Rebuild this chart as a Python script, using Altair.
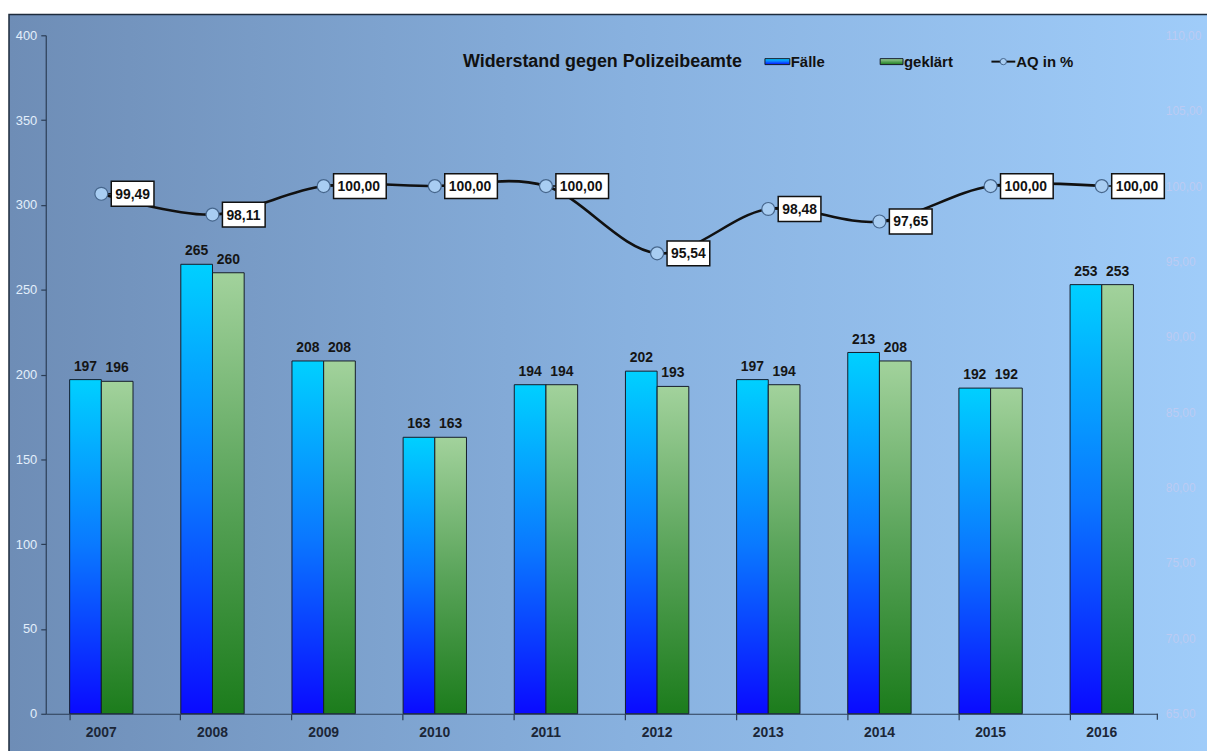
import altair as alt
import pandas as pd

# ---------------- data ----------------
years = ["2007", "2008", "2009", "2010", "2011", "2012", "2013", "2014", "2015", "2016"]
faelle = [197, 265, 208, 163, 194, 202, 197, 213, 192, 253]
geklaert = [196, 260, 208, 163, 194, 193, 194, 208, 192, 253]
aq = [99.49, 98.11, 100.00, 100.00, 100.00, 95.54, 98.48, 97.65, 100.00, 100.00]
series_names = ["Fälle", "geklärt"]
left_ticks = [0, 50, 100, 150, 200, 250, 300, 350, 400]
right_ticks = [65, 70, 75, 80, 85, 90, 95, 100, 105, 110]
title_text = "Widerstand gegen Polizeibeamte"
legend_labels = ["Fälle", "geklärt", "AQ in %"]

# ---------------- tables ----------------
rows = []
for y, f, g in zip(years, faelle, geklaert):
    rows.append({"year": y, "series": series_names[0], "value": f})
    rows.append({"year": y, "series": series_names[1], "value": g})
df_bars = pd.DataFrame(rows)

labs = [f"{v:.2f}".replace(".", ",") for v in aq]
df_line = pd.DataFrame({"year": years, "aq": aq, "lab": labs, "n": [str(len(s)) for s in labs]})
one = pd.DataFrame({"a": [0]})

W, H = 1119, 683
BOLD = "Liberation Sans"
REG = "Liberation Sans"

# ---------------- encodings ----------------
X = alt.X(
    "year:N", sort=years,
    scale=alt.Scale(domain=years, paddingInner=0.43, paddingOuter=0.215),
    axis=alt.Axis(title=None, labelFont=BOLD, labelFontWeight="bold", labelFontSize=14,
                  labelColor="#1b2637", labelPadding=6, domainColor="#2b3d55", domainWidth=1.2,
                  tickColor="#2b3d55", tickSize=6, tickWidth=1.2, bandPosition=0, labelAngle=0,
                  grid=False, zindex=1),
)
XO = alt.XOffset("series:N", scale=alt.Scale(domain=series_names, paddingInner=0, paddingOuter=0))
YL = alt.Y(
    "value:Q",
    scale=alt.Scale(domain=[0, 400], nice=False, zero=True),
    axis=alt.Axis(title=None, values=left_ticks, labelFont=REG, labelFontSize=13,
                  labelColor="#e2eefb", labelPadding=4, domainColor="#2b3d55", domainWidth=1.2,
                  tickColor="#2b3d55", tickSize=5, tickWidth=1.2, grid=False, zindex=1),
)
YR = alt.Y(
    "aq:Q",
    scale=alt.Scale(domain=[65, 110], nice=False, zero=False),
    axis=alt.Axis(title=None, orient="right", values=right_ticks,
                  labelExpr="replace(format(datum.value, '.2f'), '.', ',')",
                  labelFont=REG, labelFontSize=12, labelColor="#bccbf3", labelPadding=8,
                  domain=False, ticks=False, grid=False, zindex=1),
)

grad_blue = alt.Gradient(gradient="linear", x1=0, x2=0, y1=0, y2=1,
                         stops=[alt.GradientStop(color="#00d0ff", offset=0),
                                alt.GradientStop(color="#0a78ff", offset=0.5),
                                alt.GradientStop(color="#0a0aff", offset=1)])
grad_green = alt.Gradient(gradient="linear", x1=0, x2=0, y1=0, y2=1,
                          stops=[alt.GradientStop(color="#a2d29c", offset=0),
                                 alt.GradientStop(color="#5aa45a", offset=0.5),
                                 alt.GradientStop(color="#1c7c1c", offset=1)])
grad_bg = alt.Gradient(gradient="linear", x1=0, x2=1, y1=0, y2=0,
                       stops=[alt.GradientStop(color="#6e8db6", offset=0),
                              alt.GradientStop(color="#88b1df", offset=0.5),
                              alt.GradientStop(color="#a1cefb", offset=1)])

# ---------------- background ----------------
bg = alt.Chart(one).mark_rect(fill=grad_bg, stroke="#1d2b3c", strokeWidth=1.5).encode(
    x=alt.value(-37), x2=alt.value(W + 90), y=alt.value(-21), y2=alt.value(H + 60)
)

# ---------------- bars ----------------
bars_f = alt.Chart(df_bars).transform_filter(alt.datum.series == series_names[0]).mark_bar(
    fill=grad_blue, stroke="#141c2a", strokeWidth=1
).encode(x=X, xOffset=XO, y=YL)
bars_g = alt.Chart(df_bars).transform_filter(alt.datum.series == series_names[1]).mark_bar(
    fill=grad_green, stroke="#141c2a", strokeWidth=1
).encode(x=X, xOffset=XO, y=YL)
bar_text = alt.Chart(df_bars).mark_text(
    font=BOLD, fontWeight="bold", fontSize=14, color="#151515", baseline="alphabetic", dy=-9
).encode(x=X, xOffset=XO, y=YL, text="value:Q")
left = alt.layer(bars_f, bars_g, bar_text)

# ---------------- line ----------------
path5 = "M0.26,0H0.4M0.4,-0.5H2.12V0.5H0.4Z"
path6 = "M0.26,0H0.4M0.4,-0.5H2.52V0.5H0.4Z"
line = alt.Chart(df_line).mark_line(interpolate="cardinal", color="#111111", strokeWidth=2.6).encode(x=X, y=YR)
boxes = alt.Chart(df_line).mark_point(
    filled=True, fill="white", stroke="#111111", strokeWidth=1.5, opacity=1, fillOpacity=1, size=2500
).encode(x=X, y=YR, shape=alt.Shape("n:N", scale=alt.Scale(domain=["5", "6"], range=[path5, path6]), legend=None))
circles = alt.Chart(df_line).mark_point(
    shape="circle", filled=True, fill="#a8cdf2", stroke="#46668c", strokeWidth=1.2, size=170, opacity=1
).encode(x=X, y=YR)
box_text = alt.Chart(df_line).mark_text(
    align="left", baseline="middle", dx=14, dy=1, font=BOLD, fontWeight="bold", fontSize=14, color="#111111"
).encode(x=X, y=YR, text="lab:N")
right = alt.layer(line, boxes, circles, box_text)

# ---------------- title & legend ----------------
title = alt.Chart(one).mark_text(
    text=title_text, align="left", baseline="alphabetic", font=BOLD, fontWeight="bold",
    fontSize=18, color="#111111"
).encode(x=alt.value(420), y=alt.value(32))

leg_f_sym = alt.Chart(one).mark_rect(fill=grad_blue, stroke="#141c2a", strokeWidth=1).encode(
    x=alt.value(724), x2=alt.value(749), y=alt.value(23.5), y2=alt.value(29.5))
leg_g_sym = alt.Chart(one).mark_rect(fill=grad_green, stroke="#141c2a", strokeWidth=1).encode(
    x=alt.value(840), x2=alt.value(863), y=alt.value(23.5), y2=alt.value(29.5))
leg_l_line = alt.Chart(one).mark_rule(color="#111111", strokeWidth=2).encode(
    x=alt.value(952), x2=alt.value(976), y=alt.value(26.5))
leg_l_pt = alt.Chart(one).mark_point(
    shape="circle", filled=True, fill="#a8cdf2", stroke="#46668c", strokeWidth=1, size=40, opacity=1
).encode(x=alt.value(964), y=alt.value(26.5))


def leg_text(txt, x):
    return alt.Chart(one).mark_text(
        text=txt, align="left", baseline="alphabetic", font=BOLD, fontWeight="bold",
        fontSize=15, color="#111111"
    ).encode(x=alt.value(x), y=alt.value(32))


leg_texts = [leg_text(legend_labels[0], 750), leg_text(legend_labels[1], 864), leg_text(legend_labels[2], 977)]

end_tick = alt.Chart(one).mark_rule(color="#2b3d55", strokeWidth=1.2).encode(
    x=alt.value(W), y=alt.value(H), y2=alt.value(H + 6))

chart = alt.layer(
    bg, left, right, title, leg_f_sym, leg_g_sym, leg_l_line, leg_l_pt, *leg_texts, end_tick
).resolve_scale(y="independent").properties(
    width=W, height=H,
    autosize=alt.AutoSizeParams(type="none"),
    padding={"left": 38, "top": 25, "right": 50, "bottom": 35},
).configure_view(strokeWidth=0)

chart.save("out.html", embed_options={"renderer": "svg", "actions": False})
